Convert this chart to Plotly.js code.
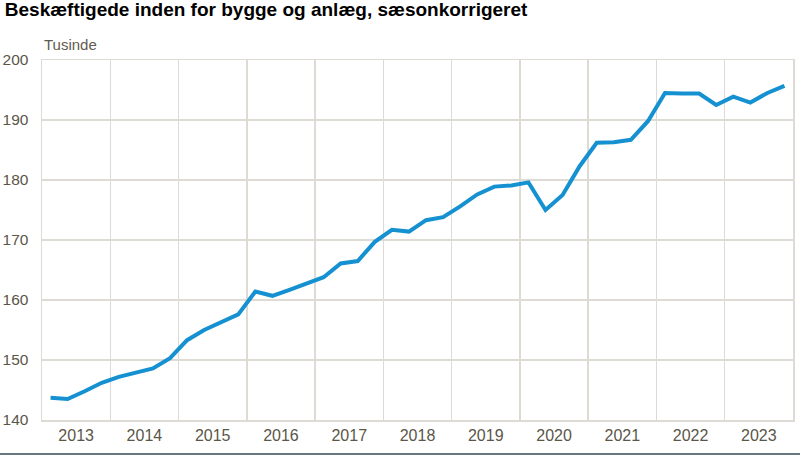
<!DOCTYPE html>
<html>
<head>
<meta charset="utf-8">
<script src="https://cdn.plot.ly/plotly-3.0.1.min.js"></script>
<style>
  html, body { margin: 0; padding: 0; background: #fff; }
  #chart { width: 800px; height: 458px; }
</style>
</head>
<body>
<div id="chart"></div>
<script>
// Kvartaler 2013K1 - 2023K4, beskæftigede i tusinde (sæsonkorrigeret)
var years = [2013, 2014, 2015, 2016, 2017, 2018, 2019, 2020, 2021, 2022, 2023];
var quarters = [1, 2, 3, 4];
var employed = [
  143.7, 143.5, 144.8, 146.2,
  147.2, 147.9, 148.6, 150.3,
  153.3, 155.0, 156.3, 157.6,
  161.4, 160.7, 161.7, 162.8,
  163.8, 166.1, 166.5, 169.7,
  171.7, 171.4, 173.3, 173.8,
  175.6, 177.6, 178.9, 179.1,
  179.6, 175.0, 177.5, 182.3,
  186.2, 186.3, 186.7, 189.8,
  194.5, 194.4, 194.4, 192.5,
  193.9, 192.9, 194.5, 195.7
];
var yTicks = [140, 150, 160, 170, 180, 190, 200];

// position of each quarter inside its year
var xs = [];
years.forEach(function (yr) {
  quarters.forEach(function (q) { xs.push(yr + (q - 0.5) / 4); });
});

var yearMid = years.map(function (yr) { return yr + 0.5; });
var yearLabels = years.map(String);
var yearEdges = years.concat([years[years.length - 1] + 1]);

var gridCol = '#dedbd4';
var tickCol = '#5a5648';
var narrow = '"Liberation Sans Narrow", "Arial Narrow", "Liberation Sans", sans-serif';

var trace = {
  x: xs,
  y: employed,
  type: 'scatter',
  mode: 'lines',
  line: { color: '#1591d2', width: 4 },
  hoverinfo: 'y'
};

var layout = {
  width: 800,
  height: 458,
  margin: { l: 42, r: 7, t: 60, b: 38 },
  paper_bgcolor: '#fff',
  plot_bgcolor: '#fff',
  showlegend: false,
  title: {
    text: '<b>Beskæftigede inden for bygge og anlæg, sæsonkorrigeret</b>',
    x: 0.006, xanchor: 'left', xref: 'container',
    y: 0.995, yanchor: 'top', yref: 'container',
    font: { family: '"Liberation Sans", Arial, sans-serif', size: 19, color: '#000' }
  },
  xaxis: {
    range: [years[0], years[years.length - 1] + 1],
    tickvals: yearMid,
    ticktext: yearLabels,
    showgrid: false,
    zeroline: false,
    ticks: '',
    tickfont: { family: narrow, size: 16, color: tickCol },
    minor: { tickvals: yearEdges, showgrid: true, gridcolor: gridCol, gridwidth: 1.5, ticks: '' },
    showline: true, linecolor: gridCol, linewidth: 1.5,
    mirror: true,
    fixedrange: true
  },
  yaxis: {
    range: [140, 200],
    tickvals: yTicks,
    showgrid: true,
    gridcolor: gridCol,
    gridwidth: 1.5,
    zeroline: false,
    ticks: '',
    ticklabelstandoff: 9,
    tickfont: { family: narrow, size: 15.5, color: tickCol },
    showline: true, linecolor: gridCol, linewidth: 1.5,
    mirror: true,
    fixedrange: true
  },
  annotations: [{
    text: 'Tusinde',
    xref: 'paper', yref: 'paper',
    x: 0, y: 1.042, xanchor: 'left', yanchor: 'middle',
    showarrow: false,
    font: { family: narrow, size: 15, color: '#5f5b50' }
  }],
  shapes: [{
    type: 'line', xref: 'paper', yref: 'paper',
    x0: -0.06, x1: 1.02, y0: -0.0944, y1: -0.0944,
    line: { color: '#66787e', width: 2 }
  }]
};

Plotly.newPlot('chart', [trace], layout, { displayModeBar: false, staticPlot: true });
</script>
</body>
</html>
